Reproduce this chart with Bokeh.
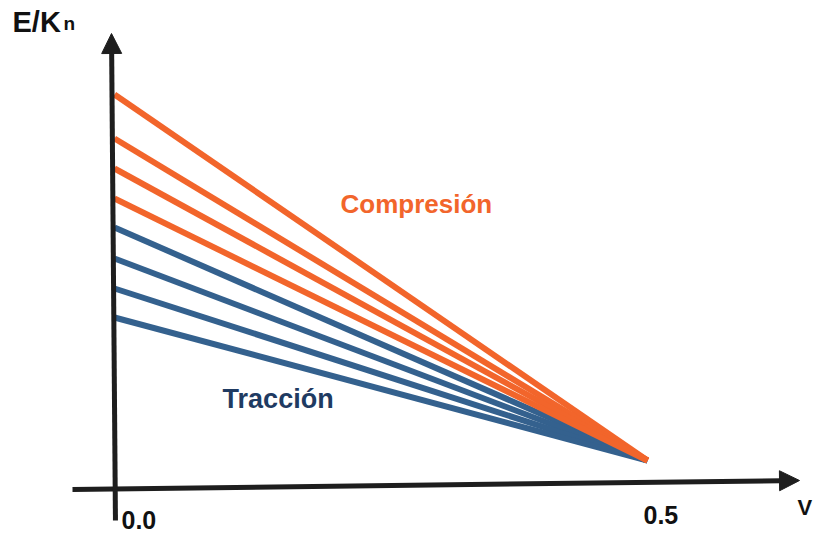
from bokeh.plotting import figure
from bokeh.models import Range1d, Arrow, NormalHead, Label
from bokeh.embed import file_html
from bokeh.resources import INLINE

# ---- data (schematic values) ----
nu_start = 0.0
nu_end = 0.5
e_end = 0.28
compresion_start = [3.94, 3.50, 3.20, 2.90]
traccion_start = [2.61, 2.30, 2.00, 1.71]
tick_values = [0.0, 0.5]
tick_labels = ["0.0", "0.5"]

ORANGE = "#F2652B"
BLUE = "#34618E"
BLUE_TEXT = "#1F3B62"
AXIS = "#1E1E1E"
FONT = "Liberation Sans"
DY = 0.09  # baseline correction for label rendering

p = figure(width=813, height=535, output_backend="svg", toolbar_location=None,
           x_range=Range1d(-0.10694, 0.65572), y_range=Range1d(-0.47, 4.88),
           x_axis_type=None, y_axis_type=None, min_border=0,
           outline_line_color=None, background_fill_color="white",
           border_fill_color="white")

# Tracción lines (blue) first, compresión (orange) on top
p.multi_line(xs=[[nu_start, nu_end] for _ in traccion_start],
             ys=[[s, e_end] for s in traccion_start],
             line_color=BLUE, line_width=6)
p.multi_line(xs=[[nu_start, nu_end] for _ in compresion_start],
             ys=[[s, e_end] for s in compresion_start],
             line_color=ORANGE, line_width=6)

# axes with arrow heads
p.add_layout(Arrow(end=NormalHead(size=20, fill_color=AXIS, line_color=AXIS, line_width=1),
                   x_start=-0.0394, y_start=-0.01, x_end=0.6426, y_end=0.08,
                   line_color=AXIS, line_width=5))
p.add_layout(Arrow(end=NormalHead(size=20, fill_color=AXIS, line_color=AXIS, line_width=1),
                   x_start=0.0009, y_start=-0.32, x_end=-0.0028, y_end=4.55,
                   line_color=AXIS, line_width=5))

# tick labels
for val, lab, dx, yy in zip(tick_values, tick_labels, [7, -4], [-0.40, -0.35]):
    p.add_layout(Label(x=val, y=yy + DY, text=lab, x_offset=dx, text_font=FONT,
                       text_font_style="bold", text_font_size="25px",
                       text_color="#111111", text_align="left",
                       text_baseline="alphabetic"))

# axis titles
p.add_layout(Label(x=-0.0957, y=4.58 + DY, text="E/K", text_font=FONT, text_font_style="bold",
                   text_font_size="29px", text_color="#111111", text_align="left",
                   text_baseline="alphabetic"))
p.add_layout(Label(x=-0.0478, y=4.56 + DY, text="n", text_font=FONT, text_font_style="bold",
                   text_font_size="19px", text_color="#111111", text_align="left",
                   text_baseline="alphabetic"))
p.add_layout(Label(x=0.6406, y=-0.28 + DY, text="V", text_font=FONT, text_font_style="bold",
                   text_font_size="22px", text_color="#111111", text_align="left",
                   text_baseline="alphabetic"))

# series labels
p.add_layout(Label(x=0.2120, y=2.76 + DY, text="Compresión", text_font=FONT,
                   text_font_style="bold", text_font_size="26px", text_color=ORANGE,
                   text_align="left", text_baseline="alphabetic"))
p.add_layout(Label(x=0.1014, y=0.81 + DY, text="Tracción", text_font=FONT,
                   text_font_style="bold", text_font_size="27px", text_color=BLUE_TEXT,
                   text_align="left", text_baseline="alphabetic"))

open("out.html", "w").write(file_html(p, INLINE))
